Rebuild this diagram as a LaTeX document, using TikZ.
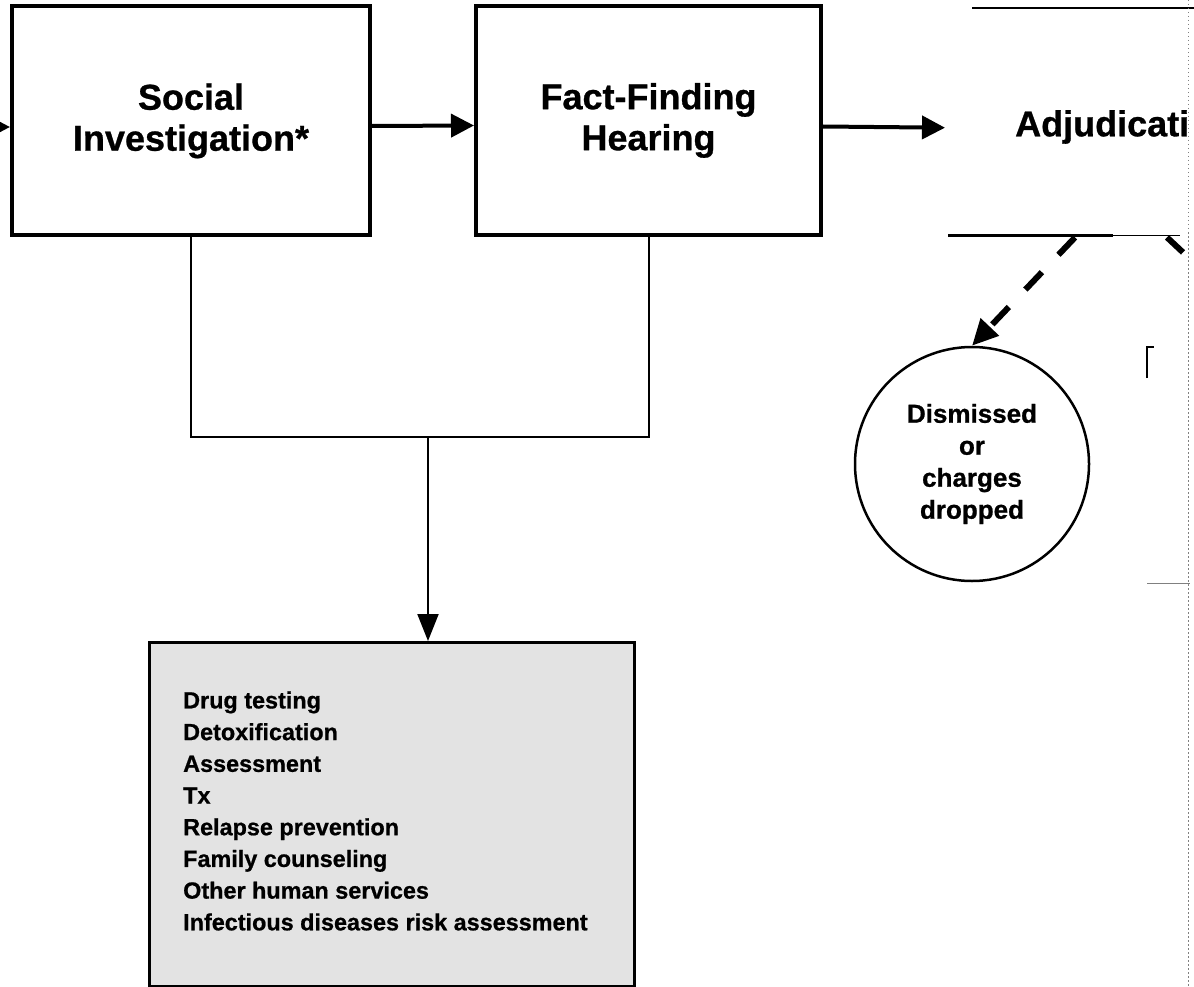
\documentclass[tikz,border=0pt]{standalone}
\usepackage{fontspec}
\setmainfont{Liberation Sans}[BoldFeatures={FakeBold=0.8}]
\usetikzlibrary{arrows.meta,calc,shapes.geometric}
\begin{document}
\begin{tikzpicture}[x=1pt,y=-1pt,
  stagebox/.style={draw, line width=4pt, minimum width=#1, minimum height=229pt, inner sep=0pt, align=center,
    font=\fontsize{36}{41}\selectfont\bfseries},
  flow/.style={line width=4pt, -{Triangle[length=23pt,width=23pt]}},
  thin/.style={line width=2pt},
  dashflow/.style={line width=6pt, dash pattern=on 24pt off 24pt, -{Triangle[length=26pt,width=24pt]}},
  edge/.style={line width=0.6pt, gray, dash pattern=on 1.5pt off 2.5pt}
]
\useasboundingbox (0,0) rectangle (1194,987);
\clip (0,0) rectangle (1194,987);

% stage boxes
\node[stagebox=358pt] (soc) at (191,121) {Social\\Investigation*};
\node[stagebox=345pt] (ff) at (648.5,120.5) {Fact-Finding\\Hearing};
\node[minimum width=300pt, minimum height=227pt, inner sep=0pt, anchor=north west] (adj) at (948,8) {};
\node[anchor=west, inner sep=0pt, font=\fontsize{36}{41}\selectfont\bfseries] (adjt) at (1015,127) {Adjudicati};
\draw[line width=2.5pt] ($(adj.north west)+(24,0)$) -- ($(adj.north west)+(250,0)$);
\draw[line width=3pt] (adj.south west) -- ($(adj.south west)+(165,0)$);
\draw[line width=1.5pt] ($(adj.south west)+(165,0)$) -- ($(adj.south west)+(232,0)$);

% incoming arrow at left edge
\coordinate (in) at (-60,127);
\draw[flow] (in) -- ($(soc.west)+(0,6)$);

% main flow
\draw[flow] ($(soc.east)+(0,5)$) -- ($(ff.west)+(0,5)$);
\draw[flow] ($(ff.east)+(0,6)$) -- ($(adj.west)+(-3,6)$);

% circle outcome
\node[circle, draw, line width=2.5pt, minimum size=234pt, inner sep=0pt, align=center,
  font=\fontsize{26}{32}\selectfont\bfseries] (circ) at (972,464) {Dismissed\\or\\charges\\dropped};
\draw[dashflow] ($(adj.south west)+(127,2)$) -- (circ.north);
\coordinate (d2) at ($(adj.south west)+(219,2)$);
\draw[line width=6pt] (d2) -- ++(16,15);

% partial marks at right
\draw[line width=2.5pt] (1147,378) -- (1147,347) -- (1154,347);
\draw[line width=1pt, gray] (1147,583) -- (1190,583);
\draw[edge] (1188,0) -- (1188,987);

% services box
\node[draw, line width=2.5pt, fill=black!11, minimum width=485pt, minimum height=344pt, inner sep=0pt, anchor=north west] (svc) at (148,641) {};
\node[anchor=west, inner sep=0pt, align=left, font=\fontsize{23.4}{31.7}\selectfont\bfseries] (svct) at (183,811)
  {Drug testing\\Detoxification\\Assessment\\Tx\\Relapse prevention\\Family counseling\\Other human services\\Infectious diseases risk assessment};

% joining connectors
\coordinate (j) at (428,437);
\draw[thin] (soc.south) -- (soc.south |- j) -- (ff.south |- j) -- (ff.south);
\draw[thin, -{Triangle[length=27pt,width=21pt]}] (j) -- (j |- svc.north);
\end{tikzpicture}
\end{document}
